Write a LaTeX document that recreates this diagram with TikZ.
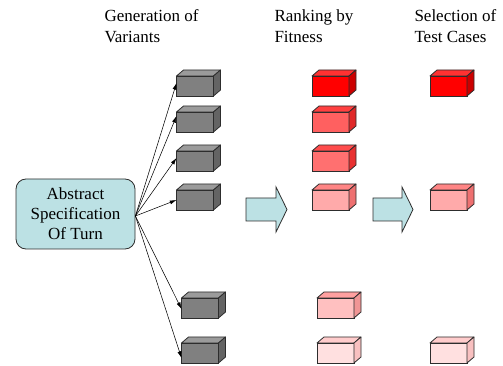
\documentclass[tikz,border=0pt]{standalone}
\usepackage{fontspec}
\setmainfont{Liberation Serif}
\usetikzlibrary{arrows.meta}

\definecolor{edgegrey}{RGB}{45,45,45}
\definecolor{specfill}{RGB}{188,225,228}

\tikzset{every picture/.style={line width=0.75pt}}
\tikzset{
  cubefront/.style={draw=edgegrey, line width=0.6pt, minimum width=27.75pt, minimum height=15pt, inner sep=0pt, outer sep=0pt},
  cubeface/.style={draw=edgegrey, line width=0.6pt, line join=round},
  spec/.style={draw=edgegrey, fill=specfill, line width=0.6pt, rounded corners=7.5pt, minimum width=89.25pt, minimum height=52.5pt, inner sep=0pt, align=center, font=\fontsize{12.75}{15}\selectfont},
  feed/.style={-{Latex[length=5pt,width=3pt]}, line width=0.4pt},
  blockarrow/.style={draw=edgegrey, fill=specfill, line width=0.6pt, line join=miter},
  heading/.style={anchor=north west, inner sep=0pt, align=left, font=\fontsize{12.75}{15.75}\selectfont}
}

% name, position, front, top, side
\newcommand{\cube}[5]{%
  \node [cubefront, fill={#3}] (#1) at (#2) {};
  \draw [cubeface, fill={#4}] (#1.north west) -- ++(7,-6) -- ++(37,0) -- (#1.north east) -- cycle ;
  \draw [cubeface, fill={#5}] (#1.north east) -- ++(7,-6) -- ++(0,20) -- (#1.south east) -- cycle ;
}

\begin{document}
\begin{tikzpicture}[x=0.75pt,y=0.75pt,yscale=-1,xscale=1]
	\useasboundingbox (0,0) rectangle (503,366);
	
	%Shape: Rounded Rect [id:spec]
	\node [spec] (spec) at (75.5,214) {Abstract\\Specification\\Of Turn};
	
	%Shape: Cubes -- variants
	\cube{g1}{195,86}{{rgb,255:red,128;green,128;blue,128}}{{rgb,255:red,155;green,155;blue,155}}{{rgb,255:red,100;green,100;blue,100}}
	\cube{g2}{195,122}{{rgb,255:red,128;green,128;blue,128}}{{rgb,255:red,155;green,155;blue,155}}{{rgb,255:red,100;green,100;blue,100}}
	\cube{g3}{195,161}{{rgb,255:red,128;green,128;blue,128}}{{rgb,255:red,155;green,155;blue,155}}{{rgb,255:red,100;green,100;blue,100}}
	\cube{g4}{195,200}{{rgb,255:red,128;green,128;blue,128}}{{rgb,255:red,155;green,155;blue,155}}{{rgb,255:red,100;green,100;blue,100}}
	\cube{g5}{200,308}{{rgb,255:red,128;green,128;blue,128}}{{rgb,255:red,155;green,155;blue,155}}{{rgb,255:red,100;green,100;blue,100}}
	\cube{g6}{200,353}{{rgb,255:red,128;green,128;blue,128}}{{rgb,255:red,155;green,155;blue,155}}{{rgb,255:red,100;green,100;blue,100}}
	
	%Shape: Cubes -- ranking
	\cube{r1}{330.5,86}{{rgb,255:red,255;green,0;blue,0}}{{rgb,255:red,255;green,50;blue,50}}{{rgb,255:red,204;green,0;blue,0}}
	\cube{r2}{330.5,122}{{rgb,255:red,255;green,96;blue,96}}{{rgb,255:red,255;green,64;blue,64}}{{rgb,255:red,224;green,40;blue,40}}
	\cube{r3}{330.5,161}{{rgb,255:red,255;green,112;blue,112}}{{rgb,255:red,255;green,76;blue,76}}{{rgb,255:red,232;green,48;blue,48}}
	\cube{r4}{330.5,200}{{rgb,255:red,255;green,170;blue,170}}{{rgb,255:red,255;green,133;blue,133}}{{rgb,255:red,238;green,112;blue,112}}
	\cube{r5}{335.5,308}{{rgb,255:red,255;green,192;blue,192}}{{rgb,255:red,255;green,160;blue,160}}{{rgb,255:red,240;green,149;blue,149}}
	\cube{r6}{335.5,353}{{rgb,255:red,255;green,224;blue,224}}{{rgb,255:red,255;green,204;blue,204}}{{rgb,255:red,248;green,192;blue,192}}
	
	%Shape: Cubes -- selection
	\cube{s1}{448.5,86}{{rgb,255:red,255;green,0;blue,0}}{{rgb,255:red,255;green,50;blue,50}}{{rgb,255:red,204;green,0;blue,0}}
	\cube{s4}{448.5,200}{{rgb,255:red,255;green,170;blue,170}}{{rgb,255:red,255;green,133;blue,133}}{{rgb,255:red,238;green,112;blue,112}}
	\cube{s6}{448.5,353}{{rgb,255:red,255;green,224;blue,224}}{{rgb,255:red,255;green,204;blue,204}}{{rgb,255:red,248;green,192;blue,192}}
	
	%Straight Lines -- spec to variants
	\draw [feed] ([yshift=1.5pt]spec.east) -- ([yshift=-2.25pt]g1.west) ;
	\draw [feed] ([yshift=1.5pt]spec.east) -- ([yshift=-4.5pt]g2.west) ;
	\draw [feed] ([yshift=1.5pt]spec.east) -- ([yshift=-2.25pt]g3.west) ;
	\draw [feed] ([yshift=1.5pt]spec.east) -- (g4.west) ;
	\draw [feed] ([yshift=1.5pt]spec.east) -- ([yshift=0.75pt]g5.west) ;
	\draw [feed] ([yshift=1.5pt]spec.east) -- ([yshift=3.75pt]g6.west) ;
	
	%Shape: Right Arrow
	\draw [blockarrow] (246,198) -- (276,198) -- (276,187) -- (287,209.5) -- (276,232) -- (276,221) -- (246,221) -- cycle ;
	%Shape: Right Arrow
	\draw [blockarrow] (373,198) -- (402,198) -- (402,187) -- (413,209.5) -- (402,232) -- (402,221) -- (373,221) -- cycle ;
	
	% Text Node
	\node [heading] (genlabel) at (104,9.5) {Generation of\\Variants};
	% Text Node
	\node [heading] (ranklabel) at (274,9.5) {Ranking by\\Fitness};
	% Text Node
	\node [heading] (sellabel) at (414,9.5) {Selection of\\Test Cases};
	
\end{tikzpicture}
\end{document}
